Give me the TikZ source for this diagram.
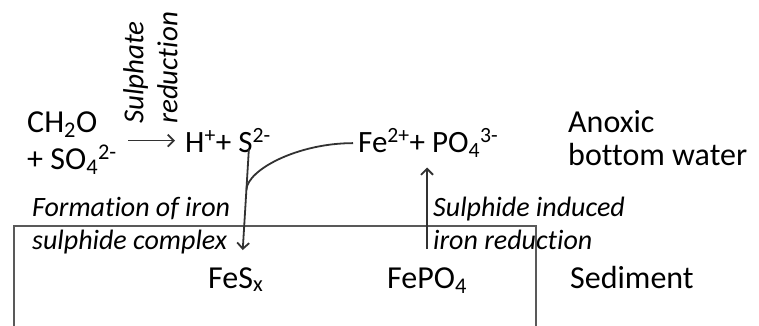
\documentclass[tikz,border=0pt]{standalone}
\usepackage{fontspec}
\setmainfont{Carlito}[Ligatures=CommonOff]
\usetikzlibrary{positioning,calc,arrows.meta}
\definecolor{edgeDark}{RGB}{50,50,50}
\definecolor{bedGray}{RGB}{89,89,89}

\begin{document}
\begin{tikzpicture}[
  x=1pt,y=-1pt,
  chem/.style={inner sep=0pt,anchor=base west,align=left,
               font=\fontsize{32}{37}\selectfont},
  ion/.style={chem,font=\fontsize{31}{36}\selectfont},
  note/.style={inner sep=0pt,align=left,font=\fontsize{28}{33}\selectfont\itshape},
  flow/.style={-{Straight Barb[length=6pt,width=12pt]},line width=1.8pt,draw=edgeDark},
  merge/.style={line width=1.8pt,draw=edgeDark},
  bed/.style={draw=bedGray,line width=1.6pt}
]
\useasboundingbox (0,0) rectangle (759,325);

% ==========  Sediment box (open at the bottom)  ==========
\draw[bed] (14,327) -- (14,226) -- (536,226) -- (536,327);

% ==========  Water column  ==========
% (base of a two-line node = its last line)
\node[chem] (react) at (27,169)
  {CH\textsubscript{2}O\\+ SO\textsubscript{4}\textsuperscript{2-}};
\node[ion] (sulf) at (185,152) {H\textsuperscript{+}+ S\textsuperscript{2-}};
\node[ion] (fep) at (358,152)
  {Fe\textsuperscript{2+}+ PO\textsubscript{4}\textsuperscript{3-}};
\node[chem,font=\fontsize{32}{33}\selectfont] (water) at (568,165)
  {Anoxic\\bottom water};

% ==========  Sediment  ==========
\node[chem] (fes) at (208,288) {FeS\textsubscript{x}};
\node[chem] (fepo) at (387,288) {FePO\textsubscript{4}};
\node[chem] (sed) at (570,288) {Sediment};

% ==========  Process labels  ==========
\node[note,anchor=north west,rotate=90,font=\fontsize{29}{34}\selectfont\itshape]
  (srlbl) at (123,124) {Sulphate\\reduction};
\node[note,anchor=base west] (formlbl) at (32,249) {Formation of iron\\sulphide complex};
\node[note,anchor=base west] (redlbl) at (433,249) {Sulphide induced\\iron reduction};

% ==========  Arrows  ==========
% sulphate reduction
\draw[flow] ([xshift=11pt]react.east |- sulf.west) -- ([xshift=-10pt]sulf.west);
% sulphide down into FeSx, iron joins it on the way
\path ([xshift=-22pt,yshift=3pt]sulf.south east) coordinate (stop)
      ([xshift=7pt,yshift=17pt]fes.north) coordinate (sbot);
\draw[flow] (stop) -- (sbot);
\draw[merge] ([xshift=-5pt]fep.west) .. controls +(-55,0) and ($(stop)!0.2!(sbot)$)
  .. ($(stop)!0.4!(sbot)$);
% iron reduction: FePO4 up to the dissolved ions
\draw[flow,shorten >=10pt] ([yshift=18pt]fepo.north) -- (fepo.north |- fep.south);

\end{tikzpicture}
\end{document}
